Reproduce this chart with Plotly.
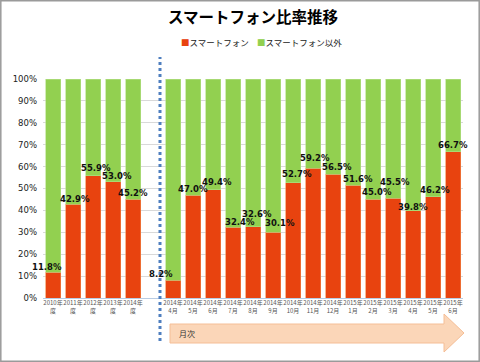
import plotly.graph_objects as go

categories = ["2010年<br>度", "2011年<br>度", "2012年<br>度", "2013年<br>度", "2014年<br>度", " ",
              "2014年<br>4月", "2014年<br>5月", "2014年<br>6月", "2014年<br>7月", "2014年<br>8月",
              "2014年<br>9月", "2014年<br>10月", "2014年<br>11月", "2014年<br>12月", "2015年<br>1月",
              "2015年<br>2月", "2015年<br>3月", "2015年<br>4月", "2015年<br>5月", "2015年<br>6月"]
smart = [11.8, 42.9, 55.9, 53.0, 45.2, None,
         8.2, 47.0, 49.4, 32.4, 32.6, 30.1, 52.7, 59.2, 56.5, 51.6, 45.0, 45.5, 39.8, 46.2, 66.7]
other = [None if v is None else round(100 - v, 1) for v in smart]
y_ticks = [0, 10, 20, 30, 40, 50, 60, 70, 80, 90, 100]

# label offsets (pixels) imitating the reference's label placement
label_dx = [-6, 2, 3, 4, 0, 0, -12, 0, 4, 7, 4, 7, 4, 2, 4, 5, 4, 2, 0, 2, 0]
label_dy = [5, 5, 8, 6, 6, 0, 6, 6, 8, 5, 13, 9, 9, 10, 7, 6, 7, 16, 4, 7, 7]

RED = "#E8430F"
GREEN = "#92D050"
FONT = "Noto Sans CJK JP"

fig = go.Figure()
fig.add_trace(go.Bar(x=categories, y=smart, name="スマートフォン", showlegend=False,
                     marker=dict(color=RED, line=dict(color="#F08A4B", width=0.6))))
fig.add_trace(go.Bar(x=categories, y=other, name="スマートフォン以外", showlegend=False,
                     marker=dict(color=GREEN, line=dict(color="#B5E08A", width=0.6))))


def px(x):
    return (x - 43) / 420


def py(y):
    return (298 - y) / 219


annotations = []
for c, v, dx, dy in zip(categories, smart, label_dx, label_dy):
    if v is None:
        continue
    annotations.append(dict(x=c, y=v, text=f"{v:.1f}%", showarrow=False, yshift=dy, xshift=dx,
                            xanchor="center", yanchor="middle",
                            font=dict(family="DejaVu Sans", size=8.5, color="#111111", weight="bold")))
# arrow text
annotations.append(dict(x=px(177), y=py(333), xref="paper", yref="paper",
                        text="月次", showarrow=False, xanchor="left", yanchor="middle",
                        font=dict(family=FONT, size=8, color="#333333")))
# manual legend
annotations.append(dict(x=px(179), y=py(42), xref="paper", yref="paper",
                        text=f"<span style='color:{RED}'>■</span>スマートフォン",
                        showarrow=False, xanchor="left", yanchor="middle",
                        font=dict(family=FONT, size=8.5, color="#222222")))
annotations.append(dict(x=px(255), y=py(42), xref="paper", yref="paper",
                        text=f"<span style='color:{GREEN}'>■</span>スマートフォン以外",
                        showarrow=False, xanchor="left", yanchor="middle",
                        font=dict(family=FONT, size=8.5, color="#222222")))
fig.update_layout(annotations=annotations)

shapes = []
# outer border
shapes.append(dict(type="rect", xref="paper", yref="paper", x0=px(0.8), x1=px(479.2),
                   y0=py(361.2), y1=py(0.8), line=dict(color="#9A9A9A", width=1.5), layer="below"))
# arrow
path = (f"M {px(170)},{py(324)} L {px(444)},{py(324)} L {px(444)},{py(314)} "
        f"L {px(464)},{py(333)} L {px(444)},{py(352)} L {px(444)},{py(343)} "
        f"L {px(170)},{py(343)} Z")
shapes.append(dict(type="path", xref="paper", yref="paper", path=path,
                   fillcolor="#FBD6B8", line=dict(color="#F5BE96", width=1)))
# dotted separator line
shapes.append(dict(type="line", xref="x", yref="paper", x0=5.35, x1=5.35,
                   y0=py(341), y1=py(57), line=dict(color="#4F7FBF", width=3, dash="dot")))
fig.update_layout(shapes=shapes)

fig.update_layout(
    width=480, height=362,
    margin=dict(l=43, r=17, t=79, b=64, autoexpand=False),
    paper_bgcolor="white", plot_bgcolor="white",
    barmode="stack", bargap=0.25,
    showlegend=False,
    title=dict(text="スマートフォン比率推移", x=0.5, xref="paper", y=1 - 18 / 362, yref="container",
               yanchor="middle",
               font=dict(family=FONT, size=15.5, color="#000000", weight="bold")),
    xaxis=dict(type="category", tickfont=dict(family=FONT, size=6, color="#555555"),
               tickangle=0, automargin=False,
               showgrid=False, ticks="", showline=False, range=[-0.5, 20.5]),
    yaxis=dict(range=[0, 100], tickvals=y_ticks, ticktext=[f"{t}%" for t in y_ticks],
               tickfont=dict(family="DejaVu Sans", size=8.5, color="#222222"), automargin=False,
               showgrid=True, gridcolor="#D9D9D9", gridwidth=1, zeroline=True,
               zerolinecolor="#B8CCE4", zerolinewidth=1, ticks="", ticklabelstandoff=5),
)

fig.write_html("out.html", config={"displayModeBar": False},
               post_script="document.body.style.margin='0';document.body.style.overflow='hidden';")
